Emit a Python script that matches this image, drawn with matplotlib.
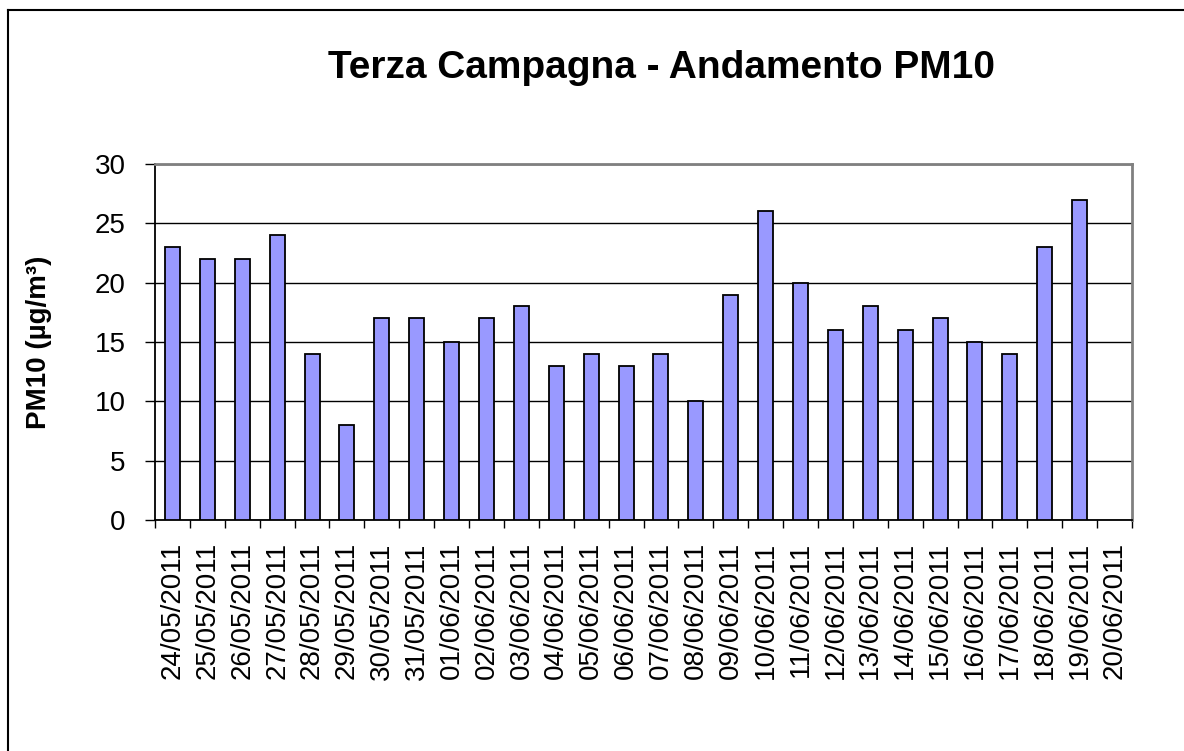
import numpy as np
import matplotlib.pyplot as plt
from matplotlib.lines import Line2D

plt.rcParams['font.family'] = ['Liberation Sans', 'DejaVu Sans']

# dati PM10 terza campagna
date = ['24/05/2011', '25/05/2011', '26/05/2011', '27/05/2011', '28/05/2011',
        '29/05/2011', '30/05/2011', '31/05/2011', '01/06/2011', '02/06/2011',
        '03/06/2011', '04/06/2011', '05/06/2011', '06/06/2011', '07/06/2011',
        '08/06/2011', '09/06/2011', '10/06/2011', '11/06/2011', '12/06/2011',
        '13/06/2011', '14/06/2011', '15/06/2011', '16/06/2011', '17/06/2011',
        '18/06/2011', '19/06/2011', '20/06/2011']
pm10 = [23, 22, 22, 24, 14, 8, 17, 17, 15, 17, 18, 13, 14, 13, 14, 10, 19, 26,
        20, 16, 18, 16, 17, 15, 14, 23, 27, np.nan]
yticks = [0, 5, 10, 15, 20, 25, 30]

W, H = 1184, 751
fig = plt.figure(figsize=(W / 100, H / 100), dpi=100)
ax = fig.add_axes([155 / W, 1 - 520 / H, (1132 - 155) / W, (520 - 164) / H])

x = np.arange(len(date))
ax.bar(x, pm10, width=0.43, color='#9999FF', edgecolor='black', linewidth=1.3, zorder=3)

ax.set_xlim(-0.5, len(date) - 0.5)
ax.set_ylim(0, 30)
ax.set_yticks(yticks)
ax.set_yticklabels([str(v) for v in yticks], fontsize=20)
ax.yaxis.grid(True, color='black', linewidth=1, zorder=0)

# tick tra le categorie, etichette al centro
ax.set_xticks(np.arange(len(date) + 1) - 0.5)
ax.set_xticklabels([])
ax.set_xticks(x, minor=True)
ax.set_xticklabels(date, minor=True, rotation=90, fontsize=20)
ax.tick_params(axis='x', which='major', length=6, width=1, direction='out')
ax.tick_params(axis='x', which='minor', length=0, pad=16)
ax.tick_params(axis='y', length=7, width=1, pad=14)

for s in ['top', 'right']:
    ax.spines[s].set_color('#808080')
    ax.spines[s].set_linewidth(2)
for s in ['left', 'bottom']:
    ax.spines[s].set_color('black')
    ax.spines[s].set_linewidth(1.3)

ax.set_ylabel('PM10 (µg/m³)', fontsize=20, fontweight='bold', labelpad=31)

fig.text(662 / W, 1 - 78 / H, 'Terza Campagna - Andamento PM10', fontsize=28,
         fontweight='bold', ha='center', va='baseline')

# cornice del grafico
fig.add_artist(Line2D([8 / W, 8 / W], [0, 1 - 10 / H], color='black', lw=1.5))
fig.add_artist(Line2D([8 / W, 1], [1 - 10 / H, 1 - 10 / H], color='black', lw=1.5))

fig.savefig('out.png', dpi=100)
